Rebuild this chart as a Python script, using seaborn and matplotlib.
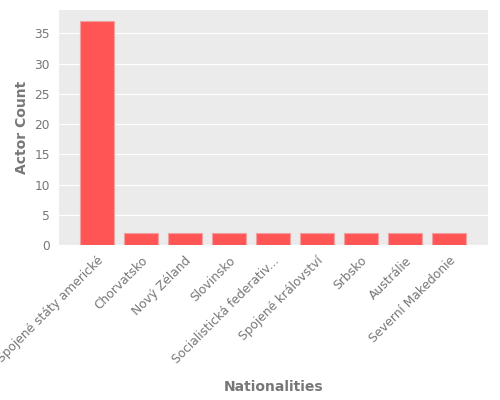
import pandas as pd
import seaborn as sns
import matplotlib.pyplot as plt

nationalities = ['Spojené státy americké', 'Chorvatsko', 'Nový Zéland', 'Slovinsko',
                 'Socialistická federativ...', 'Spojené království', 'Srbsko',
                 'Austrálie', 'Severní Makedonie']
actor_counts = [37, 2, 2, 2, 2, 2, 2, 2, 2]

df = pd.DataFrame({'Nationalities': nationalities, 'Actor Count': actor_counts})

sns.set_style('darkgrid', {'axes.facecolor': '#EBEBEB', 'grid.color': 'white'})
plt.rcParams['font.family'] = ['DejaVu Sans']

fig, ax = plt.subplots(figsize=(5, 4), dpi=100)
sns.barplot(data=df, x='Nationalities', y='Actor Count', color='#FF5555',
            saturation=1, width=0.77, edgecolor='#F0A0A0', linewidth=0.8, ax=ax)

ax.set_xlim(-0.86, 8.89)
ax.set_ylim(0, 38.85)
ax.set_xlabel('Nationalities', fontsize=10, fontweight='bold', color='#777777', labelpad=10)
ax.set_ylabel('Actor Count', fontsize=10, fontweight='bold', color='#777777')
ax.tick_params(axis='both', colors='#777777', labelsize=8.8, length=3, width=0.6)
plt.setp(ax.get_xticklabels(), rotation=45, ha='right', rotation_mode='anchor')
for s in ax.spines.values():
    s.set_visible(False)

fig.subplots_adjust(left=0.118, right=0.976, top=0.975, bottom=0.3875)
fig.savefig('out.png', dpi=100)
